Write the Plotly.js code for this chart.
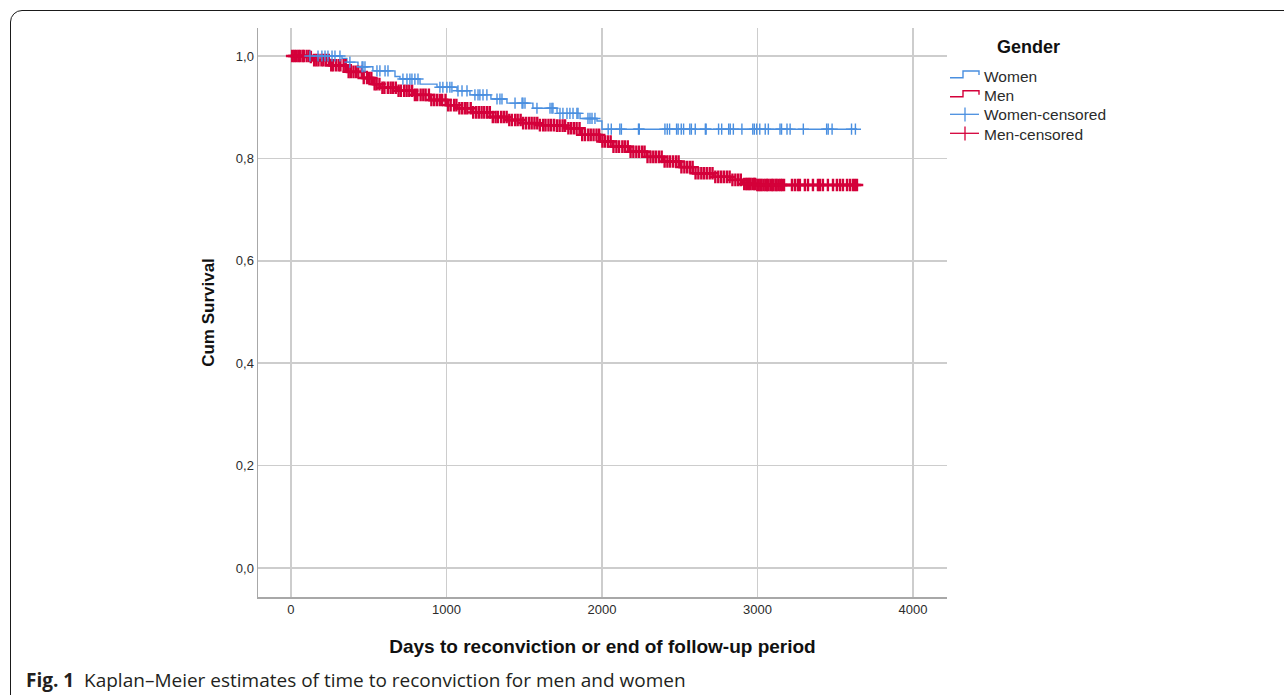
<!DOCTYPE html>
<html><head><meta charset="utf-8">
<script src="https://cdn.plot.ly/plotly-3.0.1.min.js"></script>
<style>
html,body{margin:0;padding:0;background:#fff;overflow:hidden;}
#frame{position:absolute;left:10px;top:10px;width:1300px;height:710px;border:1px solid #1a1a1a;border-radius:12px;box-sizing:border-box;}
#chart{position:absolute;left:0;top:0;width:1284px;height:695px;}
</style></head><body>
<div id="frame"></div><div id="chart"></div>
<script>
// Kaplan-Meier step estimates (days, cumulative survival)
const womenTimes = [0, 328, 360, 431, 527, 669, 701, 830, 939, 1068, 1151, 1286, 1389, 1556, 1711, 1859, 1968, 2000, 3640];
const womenSurv  = [1.0, 0.995, 0.988, 0.979, 0.971, 0.960, 0.955, 0.945, 0.939, 0.932, 0.924, 0.916, 0.908, 0.898, 0.888, 0.878, 0.873, 0.857, 0.857];
const menTimes = [0, 122, 141, 251, 360, 463, 527, 572, 682, 785, 894, 1003, 1068, 1170, 1280, 1389, 1492, 1601, 1711, 1775, 1859, 1987, 2071, 2180, 2289, 2392, 2502, 2585, 2714, 2823, 2907, 2997, 3640];
const menSurv  = [1.0, 0.998, 0.992, 0.982, 0.969, 0.957, 0.945, 0.938, 0.932, 0.924, 0.914, 0.904, 0.898, 0.890, 0.881, 0.875, 0.869, 0.865, 0.864, 0.859, 0.846, 0.833, 0.823, 0.813, 0.803, 0.794, 0.783, 0.771, 0.764, 0.758, 0.750, 0.748, 0.748];
// Censoring times (days)
const womenCensored = [122, 174, 199, 219, 238, 264, 283, 315, 379, 457, 463, 476, 553, 572, 605, 624, 720, 746, 765, 778, 797, 817, 958, 977, 1003, 1022, 1035, 1074, 1100, 1132, 1183, 1203, 1215, 1235, 1260, 1325, 1344, 1357, 1441, 1486, 1492, 1505, 1582, 1666, 1678, 1685, 1730, 1749, 1775, 1794, 1814, 1839, 1846, 1910, 1923, 1936, 1955,
  2040, 2060, 2115, 2125, 2235, 2240, 2405, 2420, 2435, 2480, 2490, 2510, 2525, 2565, 2575, 2600, 2665, 2670, 2750, 2770, 2815, 2825, 2845, 2900, 2970, 2980, 2995, 3015, 3050, 3070, 3145, 3155, 3190, 3210, 3295, 3445, 3455, 3480, 3605, 3630];
const menCensored = [8, 21, 33, 47, 58, 74, 83, 101, 117, 128, 149, 163, 177, 196, 208, 224, 243, 259, 271, 290, 307, 318, 339, 352, 371, 385, 402, 418, 433, 455, 468, 489, 503, 517, 538, 551, 569, 588, 601, 623, 641, 656, 674, 692, 707, 728, 744, 761, 779, 797, 812, 834, 851, 866, 887, 903, 921, 939, 957, 972, 994, 1011, 1027, 1049, 1064, 1083, 1101, 1119, 1134, 1156, 1172, 1191, 1208, 1226, 1243, 1262, 1279, 1298, 1316, 1331, 1352, 1369, 1387, 1404, 1421, 1442, 1458, 1477, 1493, 1512, 1531, 1548, 1566, 1584, 1601, 1622, 1637, 1656, 1673, 1692, 1711, 1728, 1747, 1763, 1784, 1801, 1819, 1837, 1856, 1873, 1891, 1912, 1928, 1946, 1965, 1982, 2003, 2019, 2038, 2056, 2074, 2093, 2110, 2131, 2147, 2166, 2184, 2202, 2221, 2239, 2258, 2274, 2293, 2312, 2330, 2347, 2366, 2384, 2403, 2421, 2438, 2457, 2476, 2493, 2511, 2530, 2548, 2566, 2583, 2602, 2620, 2639, 2656, 2674, 2693, 2711, 2729, 2748, 2766, 2784, 2803, 2821, 2839, 2858, 2876, 2893,
  2915, 2928, 2936, 2947, 2955, 2968, 2979, 2986, 2999, 3008, 3019, 3027, 3040, 3052, 3061, 3069, 3083, 3094, 3102, 3116, 3124, 3137, 3149, 3158, 3171,
  3222, 3241, 3260, 3273, 3305, 3325, 3357, 3389, 3402, 3421, 3453, 3486, 3511, 3531, 3550, 3576, 3595, 3614, 3627, 3640];
const xTicks = [0, 1000, 2000, 3000, 4000];
const yTicks = [0.0, 0.2, 0.4, 0.6, 0.8, 1.0];

const blue = '#4a8fe0';
const red = '#d4003a';

function survAt(times, surv, t) {
  let s = surv[0];
  for (let i = 0; i < times.length; i++) { if (times[i] <= t) s = surv[i]; else break; }
  return s;
}

const traces = [
  {x: menTimes, y: menSurv, mode: 'lines', line: {shape: 'hv', color: red, width: 2.5}, name: 'Men', showlegend: false, hoverinfo: 'skip'},
  {x: womenTimes, y: womenSurv, mode: 'lines', line: {shape: 'hv', color: blue, width: 1.4}, name: 'Women', showlegend: false, hoverinfo: 'skip'},
  {x: menCensored, y: menCensored.map(t => survAt(menTimes, menSurv, t)), mode: 'markers', name: 'Men-censored', showlegend: false,
   marker: {symbol: 'cross-thin', size: 9, color: red, line: {color: red, width: 2.4}}},
  {x: womenCensored, y: womenCensored.map(t => survAt(womenTimes, womenSurv, t)), mode: 'markers', name: 'Women-censored', showlegend: false,
   marker: {symbol: 'cross-thin', size: 8, color: blue, line: {color: blue, width: 1.4}}}
];

// pixel -> paper helpers for the hand-drawn legend (plot area 258..947 x 28..597)
const L = 258, R = 947, T = 28, B = 597;
const px = v => (v - L) / (R - L);
const py = v => (B - v) / (B - T);
function pathPx(pts) { return 'M' + pts.map(p => px(p[0]).toFixed(5) + ',' + py(p[1]).toFixed(5)).join(' L'); }

const shapes = [
  {type: 'path', xref: 'paper', yref: 'paper', path: pathPx([[950,77.7],[963,77.7],[963,71],[979,71],[979,75]]), line: {color: blue, width: 1.4}},
  {type: 'path', xref: 'paper', yref: 'paper', path: pathPx([[950,96.7],[963,96.7],[963,90.7],[979,90.7],[979,94.7]]), line: {color: red, width: 1.4}},
  {type: 'path', xref: 'paper', yref: 'paper', path: pathPx([[950,114.3],[979,114.3]]), line: {color: blue, width: 1.3}},
  {type: 'path', xref: 'paper', yref: 'paper', path: pathPx([[965,107.5],[965,121.5]]), line: {color: blue, width: 1.3}},
  {type: 'path', xref: 'paper', yref: 'paper', path: pathPx([[950,133.3],[979,133.3]]), line: {color: red, width: 1.3}},
  {type: 'path', xref: 'paper', yref: 'paper', path: pathPx([[965,126.5],[965,140.5]]), line: {color: red, width: 1.3}}
];
const legFont = {family: 'Liberation Sans, Arial, sans-serif', size: 15.5, color: '#2b2b2b'};
const legendItems = [['Women', 76.7], ['Men', 95.7], ['Women-censored', 114.7], ['Men-censored', 134]];
const annotations = legendItems.map(([t, y]) => ({text: t, xref: 'paper', yref: 'paper', x: px(982), y: py(y), xanchor: 'left', yanchor: 'middle', showarrow: false, font: legFont}));
annotations.push({text: '<b>Gender</b>', xref: 'paper', yref: 'paper', x: px(1028), y: py(46.5), xanchor: 'center', yanchor: 'middle', showarrow: false,
  font: {family: 'Liberation Sans, Arial, sans-serif', size: 18, color: '#111'}});
annotations.push({text: '<b>Fig. 1</b>  Kaplan–Meier estimates of time to reconviction for men and women', xref: 'paper', yref: 'paper',
  x: px(24), y: py(680), xanchor: 'left', yanchor: 'middle', showarrow: false, font: {family: 'Open Sans, Noto Sans, sans-serif', size: 19, color: '#231f20'}});

const layout = {
  width: 1284, height: 695,
  margin: {l: L, r: 1284 - R, t: T, b: 695 - B, pad: 0},
  paper_bgcolor: 'rgba(0,0,0,0)', plot_bgcolor: 'rgba(0,0,0,0)',
  separators: ',.',
  showlegend: false,
  font: {family: 'Liberation Sans, Arial, sans-serif', size: 13, color: '#2b2b2b'},
  xaxis: {range: [-212, 4219], tickvals: xTicks, tickformat: 'd', showgrid: true, gridcolor: '#cdcdcd', gridwidth: 1.5,
    zeroline: false, showline: true, linecolor: '#a8a8a8', linewidth: 1.5, ticks: '', automargin: false,
    title: {text: '<b>Days to reconviction or end of follow-up period</b>', font: {size: 19, color: '#111'}, standoff: 23}},
  yaxis: {range: [-0.0566, 1.0547], tickvals: yTicks, tickformat: '.1f', showgrid: true, gridcolor: '#cdcdcd', gridwidth: 1.5,
    zeroline: false, showline: true, linecolor: '#a8a8a8', linewidth: 1.5, ticks: '', automargin: false,
    title: {text: '<b>Cum Survival</b>', font: {size: 17, color: '#111'}, standoff: 17}},
  shapes: shapes,
  annotations: annotations
};

Plotly.newPlot('chart', traces, layout, {displayModeBar: false, staticPlot: true});
</script>
</body></html>
